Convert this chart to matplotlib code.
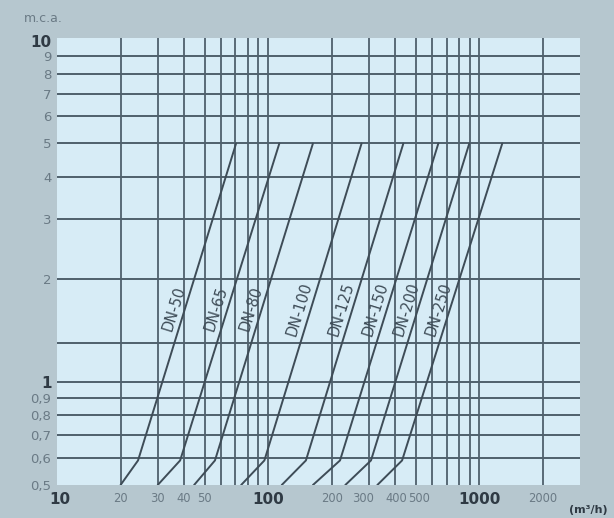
import numpy as np
import matplotlib
matplotlib.use("Agg")
import matplotlib.pyplot as plt

# ---------------- data ----------------
dn_labels = ["DN-50", "DN-65", "DN-80", "DN-100", "DN-125", "DN-150", "DN-200", "DN-250"]
q_start = [20, 30, 44.6, 74.5, 116, 163, 232, 329]      # m3/h at 0.5 m.c.a.
q_knee = [24.2, 38.3, 56, 96, 151, 219, 307, 431]       # m3/h at knee
q_top = [70.5, 113, 163, 277, 437, 640, 897, 1285]      # m3/h at 5 m.c.a.
h_points = [0.5, 0.59, 5.0]                              # m.c.a.
label_h = 1.64

x_grid = [20, 30, 40, 50, 60, 70, 80, 90, 100, 200, 300, 400, 500, 600, 700, 800, 900, 1000, 2000]
y_grid = [0.6, 0.7, 0.8, 0.9, 1, 1.3, 2, 3, 4, 5, 6, 7, 8, 9]

x_ticks = [10, 20, 30, 40, 50, 100, 200, 300, 400, 500, 1000, 2000]
x_ticklabels = ["10", "20", "30", "40", "50", "100", "200", "300", "400", "500", "1000", "2000"]
x_label_shift = [2, 0, 0, 0, 0, 0, 0, -4, 1, 2.5, 0, 0]   # small nudges in points
y_ticks = [0.5, 0.6, 0.7, 0.8, 0.9, 1, 2, 3, 4, 5, 6, 7, 8, 9, 10]
y_ticklabels = ["0,5", "0,6", "0,7", "0,8", "0,9", "1", "2", "3", "4", "5", "6", "7", "8", "9", "10"]
bold_labels = {"10", "1", "100", "1000"}

# ---------------- style ----------------
fig_bg = "#b6c7cf"
ax_bg = "#d7ecf6"
grid_c = "#4f606c"
line_c = "#3e4c57"
tick_c = "#6a7a85"
bold_c = "#2f3a44"

fig = plt.figure(figsize=(6.14, 5.18), dpi=100, facecolor=fig_bg)
ax = fig.add_axes([57 / 614, 1 - 485 / 518, 523 / 614, 447 / 518])
ax.set_facecolor(ax_bg)
ax.set_xscale("log")
ax.set_yscale("log")
ax.set_xlim(10, 3000)
ax.set_ylim(0.5, 10.18)

for s in ax.spines.values():
    s.set_visible(False)

ax.vlines(x_grid, 0.5, 10.18, colors=grid_c, linewidth=1.3, zorder=1)
ax.hlines(y_grid, 10, 3000, colors=grid_c, linewidth=1.4, zorder=1)

ax.minorticks_off()
ax.set_xticks([])
ax.set_yticks(y_ticks)
ax.set_yticklabels(y_ticklabels)
ax.tick_params(axis="both", length=0)
ax.tick_params(axis="y", pad=4)
for lab in ax.get_yticklabels():
    if lab.get_text() in bold_labels:
        lab.set_fontweight("bold")
        lab.set_color(bold_c)
        lab.set_fontsize(11)
    else:
        lab.set_color(tick_c)
        lab.set_fontsize(9.5)

for xv, txt, dx in zip(x_ticks, x_ticklabels, x_label_shift):
    bold = txt in bold_labels
    ax.annotate(txt, (xv, 0), xycoords=("data", "axes fraction"),
                xytext=(dx, -5), textcoords="offset points", ha="center", va="top",
                fontsize=11 if bold else 8.3, fontweight="bold" if bold else "normal",
                color=bold_c if bold else tick_c, annotation_clip=False)

for name, qs, qk, qt in zip(dn_labels, q_start, q_knee, q_top):
    xs = [qs, qk, qt]
    ax.plot(xs, h_points, color=line_c, linewidth=1.4, zorder=3, solid_capstyle="round")
    lx = 10 ** np.interp(np.log10(label_h), np.log10(h_points[1:]), np.log10(xs[1:]))
    p1 = ax.transData.transform((qk, h_points[1]))
    p2 = ax.transData.transform((qt, h_points[2]))
    ang = np.degrees(np.arctan2(p2[1] - p1[1], p2[0] - p1[0]))
    ax.annotate(name, (lx, label_h), xytext=(-8, 0), textcoords="offset points",
                rotation=ang, rotation_mode="anchor", ha="center", va="center",
                fontsize=10.5, color=line_c, zorder=4)

fig.text(24 / 614, 1 - 19 / 518, "m.c.a.", fontsize=9, color=tick_c, ha="left", va="center")
fig.text(588 / 614, 1 - 510 / 518, "(m³/h)", fontsize=8, color=bold_c, fontweight="bold",
         ha="center", va="center")

fig.savefig("out.png", dpi=100, facecolor=fig_bg)
